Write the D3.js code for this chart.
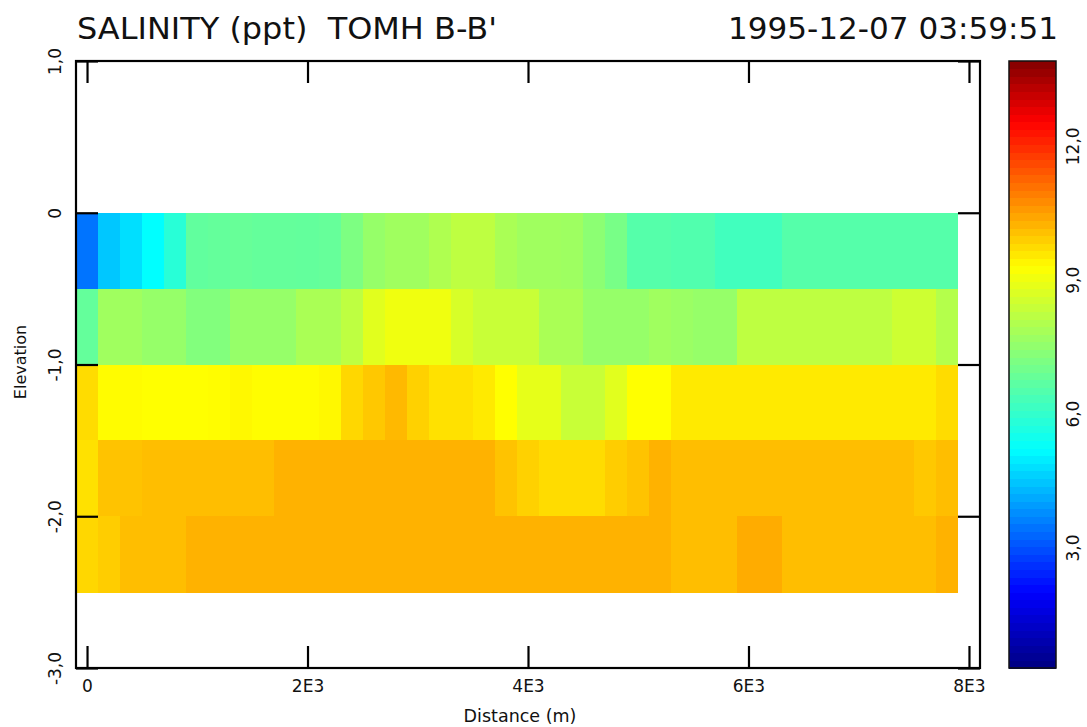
<!DOCTYPE html>
<html>
<head>
<meta charset="utf-8">
<script src="https://cdn.jsdelivr.net/npm/d3@7"></script>
<style>
  body { margin: 0; background: #fff; }
  svg { display: block; }
</style>
</head>
<body>
<svg id="chart"></svg>
<script>
// cell centres along the transect (m)
const distances = [0, 200, 400, 600, 800, 1000, 1200, 1400, 1600, 1800,
                   2000, 2200, 2400, 2600, 2800, 3000, 3200, 3400, 3600, 3800,
                   4000, 4200, 4400, 4600, 4800, 5000, 5200, 5400, 5600, 5800,
                   6000, 6200, 6400, 6600, 6800, 7000, 7200, 7400, 7600, 7800];
const cellWidth = 200;

// layer boundaries (elevation)
const layerTops    = [0, -0.5, -1.0, -1.5, -2.0];
const layerBottoms = [-0.5, -1.0, -1.5, -2.0, -2.5];

// salinity (ppt), one list per layer, top to bottom
const layer1 = [3.45, 4.5, 4.8, 5.2, 5.84, 6.75, 6.8, 6.85, 6.8, 6.8,
                6.78, 6.82, 7.2, 7.6, 7.76, 7.76, 8.0, 8.24, 8.24, 7.92,
                7.76, 7.76, 7.72, 7.44, 7.12, 6.56, 6.56, 6.5, 6.5, 6.24,
                6.24, 6.24, 6.56, 6.56, 6.56, 6.56, 6.56, 6.56, 6.56, 6.56];
const layer2 = [6.8, 7.76, 7.76, 7.6, 7.6, 7.28, 7.28, 7.6, 7.6, 7.6,
                7.92, 7.92, 8.24, 8.8, 9.04, 9.04, 9.04, 8.64, 8.4, 8.4,
                8.4, 7.92, 7.92, 7.6, 7.6, 7.6, 7.76, 7.68, 7.6, 7.6,
                8.24, 8.24, 8.24, 8.24, 8.24, 8.24, 8.24, 8.48, 8.48, 8.08];
const layer3 = [9.73, 9.32, 9.32, 9.28, 9.28, 9.28, 9.3, 9.36, 9.3, 9.3,
                9.3, 9.37, 9.79, 9.98, 10.17, 9.86, 9.66, 9.66, 9.54, 9.28,
                8.88, 8.88, 8.4, 8.4, 8.8, 9.28, 9.28, 9.54, 9.54, 9.54,
                9.54, 9.54, 9.54, 9.54, 9.54, 9.54, 9.54, 9.54, 9.54, 9.73];
const layer4 = [9.66, 10.05, 10.05, 10.11, 10.11, 10.11, 10.11, 10.11, 10.11, 10.26,
                10.26, 10.26, 10.26, 10.26, 10.26, 10.26, 10.26, 10.26, 10.26, 10.05,
                9.86, 9.73, 9.73, 9.73, 9.92, 10.05, 10.26, 10.11, 10.11, 10.11,
                10.11, 10.11, 10.11, 10.11, 10.11, 10.11, 10.11, 10.11, 9.98, 10.11];
const layer5 = [9.79, 9.92, 10.11, 10.11, 10.11, 10.26, 10.26, 10.26, 10.26, 10.26,
                10.26, 10.26, 10.26, 10.26, 10.26, 10.26, 10.26, 10.26, 10.26, 10.26,
                10.26, 10.26, 10.26, 10.26, 10.26, 10.26, 10.26, 10.11, 10.11, 10.11,
                10.34, 10.34, 10.11, 10.11, 10.11, 10.11, 10.11, 10.11, 10.11, 10.26];
const layers = [layer1, layer2, layer3, layer4, layer5];

// ticks and labels
const xTicks = [0, 2000, 4000, 6000, 8000];
const xTickLabels = ['0', '2E3', '4E3', '6E3', '8E3'];
const yTicks = [1, 0, -1, -2, -3];
const yTickLabels = ['1,0', '0', '-1,0', '-2,0', '-3,0'];
const cbarTicks = [3, 6, 9, 12];
const cbarTickLabels = ['3,0', '6,0', '9,0', '12,0'];
const salMin = 0.3, salMax = 13.9;

const width = 1087, height = 727;
const plot = {left: 76, right: 980, top: 61, bottom: 668};
const bar = {left: 1009, right: 1056};
const tickLen = 22;
const font = '"DejaVu Sans", sans-serif';

const svg = d3.select('#chart').attr('width', width).attr('height', height);

const xScale = d3.scaleLinear().domain([-100, 8100]).range([plot.left, plot.right]);
const yScale = d3.scaleLinear().domain([-3, 1]).range([plot.bottom, plot.top]);

/* jet-like palette, stops placed */
const span = salMax - salMin;
const color = d3.scaleLinear()
    .domain([0, 0.125, 0.36, 0.66, 0.90, 1].map(f => salMin + f * span))
    .range(['#000082', '#0000ff', '#00ffff', '#ffff00', '#ff0000', '#820000'])
    .clamp(true);

// cells
const cells = [];
layers.forEach((vals, i) => {
    vals.forEach((v, j) => {
        cells.push({d: distances[j], top: layerTops[i], bottom: layerBottoms[i], v: v});
    });
});

svg.append('g').selectAll('rect')
    .data(cells)
    .enter()
    .append('rect')
    .attr('x', c => xScale(c.d - cellWidth / 2))
    .attr('y', c => yScale(c.top))
    .attr('width', c => xScale(c.d + cellWidth / 2) - xScale(c.d - cellWidth / 2) + 0.5)
    .attr('height', c => yScale(c.bottom) - yScale(c.top) + 0.5)
    .attr('fill', c => color(c.v))
    .attr('shape-rendering', 'crispEdges');

// axes, ticks pointing inward on all four sides
let styleAxis = g => {
    g.select('.domain').remove();
    g.selectAll('.tick line').attr('stroke', '#000').attr('stroke-width', 2.2);
    g.selectAll('.tick text').attr('fill', '#111').style('font-family', font).style('font-size', '17px');
};

svg.append('g')
    .attr('transform', 'translate(0,' + plot.bottom + ')')
    .call(d3.axisBottom(xScale).tickValues(xTicks).tickFormat((d, i) => xTickLabels[i])
        .tickSizeInner(-tickLen).tickSizeOuter(0).tickPadding(12))
    .call(styleAxis);

svg.append('g')
    .attr('transform', 'translate(0,' + plot.top + ')')
    .call(d3.axisTop(xScale).tickValues(xTicks).tickFormat('')
        .tickSizeInner(-tickLen).tickSizeOuter(0))
    .call(styleAxis);

svg.append('g')
    .attr('transform', 'translate(' + plot.left + ',0)')
    .call(d3.axisLeft(yScale).tickValues(yTicks).tickFormat((d, i) => yTickLabels[i])
        .tickSizeInner(-tickLen).tickSizeOuter(0))
    .call(styleAxis)
    .selectAll('.tick text')
    .attr('transform', 'rotate(-90)')
    .attr('x', 0).attr('y', -21).attr('dy', '0.35em')
    .attr('text-anchor', 'middle');

svg.append('g')
    .attr('transform', 'translate(' + plot.right + ',0)')
    .call(d3.axisRight(yScale).tickValues(yTicks).tickFormat('')
        .tickSizeInner(-tickLen).tickSizeOuter(0))
    .call(styleAxis);

// frame
svg.append('rect')
    .attr('x', plot.left).attr('y', plot.top)
    .attr('width', plot.right - plot.left).attr('height', plot.bottom - plot.top)
    .attr('fill', 'none').attr('stroke', '#000').attr('stroke-width', 2.2);

// colour bar
const cbarScale = d3.scaleLinear().domain([salMin, salMax]).range([plot.bottom, plot.top]);
const steps = 80;
const stepVals = d3.range(steps).map(k => salMin + (k + 0.5) * span / steps);
svg.append('g').selectAll('rect')
    .data(stepVals)
    .enter()
    .append('rect')
    .attr('x', bar.left)
    .attr('width', bar.right - bar.left)
    .attr('y', v => cbarScale(v + span / steps / 2))
    .attr('height', (plot.bottom - plot.top) / steps + 0.6)
    .attr('fill', v => color(v))
    .attr('shape-rendering', 'crispEdges');

svg.append('rect')
    .attr('x', bar.left).attr('y', plot.top)
    .attr('width', bar.right - bar.left).attr('height', plot.bottom - plot.top)
    .attr('fill', 'none').attr('stroke', '#111').attr('stroke-width', 1.5);

svg.append('g')
    .attr('transform', 'translate(' + bar.right + ',0)')
    .call(d3.axisRight(cbarScale).tickValues(cbarTicks).tickFormat((d, i) => cbarTickLabels[i])
        .tickSize(0))
    .call(styleAxis)
    .selectAll('.tick text')
    .attr('transform', 'rotate(-90)')
    .attr('x', 0).attr('y', 17).attr('dy', '0.35em')
    .attr('text-anchor', 'middle');

// titles
svg.append('text')
    .attr('x', 77).attr('y', 39)
    .attr('textLength', 420).attr('lengthAdjust', 'spacingAndGlyphs')
    .style('white-space', 'pre')
    .style('font-family', font).style('font-size', '31px')
    .attr('fill', '#111')
    .text("SALINITY (ppt)  TOMH B-B'");

svg.append('text')
    .attr('x', 728).attr('y', 39)
    .attr('textLength', 330).attr('lengthAdjust', 'spacingAndGlyphs')
    .style('font-family', font).style('font-size', '31px')
    .attr('fill', '#111')
    .text('1995-12-07 03:59:51');

svg.append('text')
    .attr('transform', 'translate(20,362) rotate(-90)')
    .attr('text-anchor', 'middle').attr('dy', '0.35em')
    .style('font-family', font).style('font-size', '16px')
    .attr('fill', '#111')
    .text('Elevation');

svg.append('text')
    .attr('x', 520).attr('y', 716)
    .attr('text-anchor', 'middle').attr('dy', '0.35em')
    .style('font-family', font).style('font-size', '17.5px')
    .attr('fill', '#111')
    .text('Distance (m)');
</script>
</body>
</html>
